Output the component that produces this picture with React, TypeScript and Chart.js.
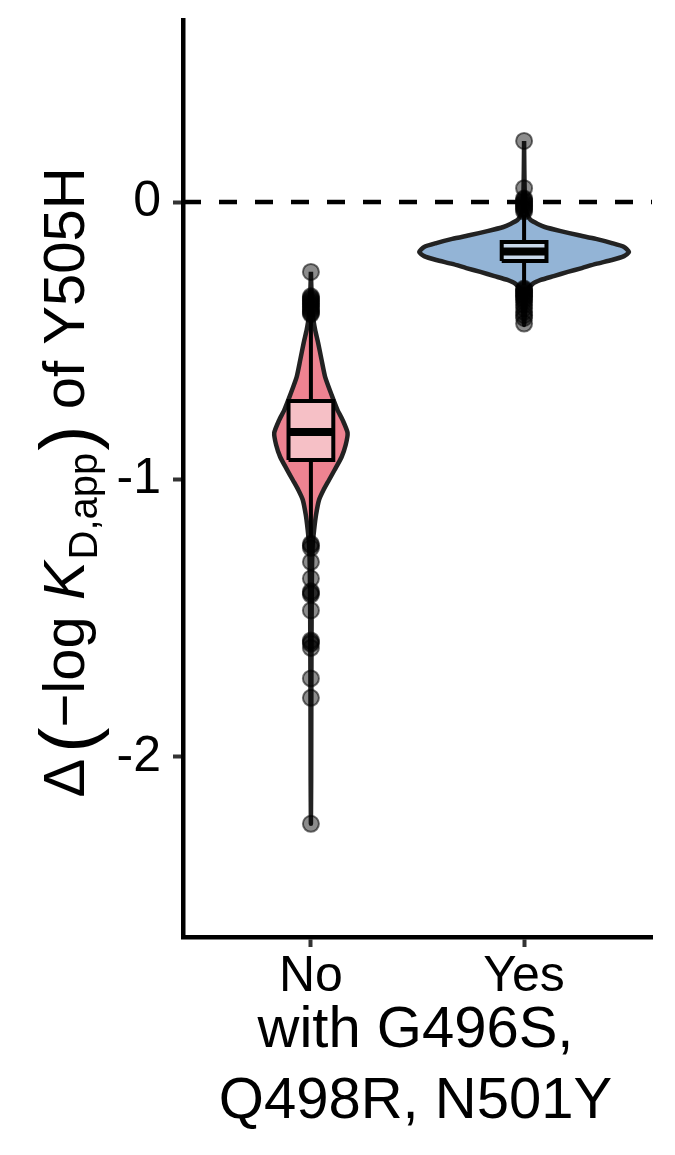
import React, { useEffect, useRef } from 'react';
import { Chart, registerables } from 'chart.js';

Chart.register(...registerables);

const FONT = '"Liberation Sans", Arial, Helvetica, sans-serif';

// ---- data ----
const categories = ['No', 'Yes'];
const yTickValues = [0, -1, -2];
const xTitleLines = ['with G496S,', 'Q498R, N501Y'];

// violin profiles: y value and half-width (in x-axis units)
const noDensityY = [-0.252, -0.317, -0.389, -0.432, -0.461, -0.508, -0.569, -0.631, -0.695, -0.75, -0.786, -0.832, -0.876, -0.919, -0.966, -1.002, -1.038, -1.074, -1.128, -1.182, -1.236, -1.326, -1.506, -1.795, -2.083, -2.241];
const noDensityW = [0, 0.0024, 0.0066, 0.0132, 0.02, 0.034, 0.05, 0.067, 0.097, 0.125, 0.149, 0.172, 0.163, 0.144, 0.111, 0.085, 0.059, 0.038, 0.024, 0.015, 0.0085, 0.005, 0.0033, 0.002, 0.0012, 0];
const yesDensityY = [0.22, 0.115, 0.025, -0.029, -0.05, -0.065, -0.079, -0.09, -0.105, -0.119, -0.133, -0.148, -0.162, -0.18, -0.195, -0.209, -0.223, -0.238, -0.252, -0.267, -0.281, -0.295, -0.317, -0.353, -0.396, -0.443];
const yesDensityW = [0, 0.0012, 0.0033, 0.0085, 0.018, 0.031, 0.064, 0.097, 0.172, 0.252, 0.337, 0.412, 0.469, 0.492, 0.469, 0.412, 0.337, 0.271, 0.205, 0.139, 0.078, 0.04, 0.018, 0.0085, 0.004, 0];

// box statistics
const boxQ1 = [-0.93, -0.213];
const boxMedian = [-0.829, -0.178];
const boxQ3 = [-0.717, -0.144];
const whiskerLow = [-1.21, -0.3];
const whiskerHigh = [-0.42, -0.045];

// outliers
const noOutliers = [-0.252, -0.34, -0.345, -0.35, -0.355, -0.36, -0.365, -0.37, -0.376, -0.382, -0.388, -0.394, -0.4, -0.404, -1.232, -1.238, -1.247, -1.297, -1.357, -1.403, -1.409, -1.415, -1.472, -1.58, -1.586, -1.592, -1.607, -1.717, -1.787, -2.241];
const yesOutliers = [0.22, 0.05, 0.013, 0.008, 0.003, -0.002, -0.007, -0.012, -0.017, -0.022, -0.027, -0.034, -0.312, -0.316, -0.32, -0.325, -0.33, -0.335, -0.34, -0.346, -0.352, -0.36, -0.371, -0.383, -0.396, -0.408, -0.418, -0.438];

const refLine = [0];

// ---- styles ----
const violinFills = ['#EE8391', '#93B4D6'];
const boxFills = ['#F6C0C6', '#C7D7EA'];
const BOX_HALF = 0.105;
const TICK_SIZE = 50;
const TITLE_SIZE = 58;

function violinPoints(center: number, ys: number[], ws: number[]) {
  const right = ys.map((y, i) => ({ x: center + ws[i], y }));
  const left = ys.map((y, i) => ({ x: center - ws[i], y })).reverse();
  return [...right, ...left];
}

function drawYTitle(ctx: CanvasRenderingContext2D, baseX: number, centerY: number) {
  const PAREN = 76;
  const SUB = 40;
  const parts = [
    { text: 'Δ', font: `${TITLE_SIZE}px ${FONT}`, dy: 0, gap: 6 },
    { text: '(', font: `${PAREN}px ${FONT}`, dy: 9, gap: 0 },
    { text: '−log ', font: `${TITLE_SIZE}px ${FONT}`, dy: 0, gap: 0 },
    { text: 'K', font: `italic ${TITLE_SIZE}px ${FONT}`, dy: 0, gap: 2 },
    { text: 'D,app', font: `${SUB}px ${FONT}`, dy: 13, gap: 2 },
    { text: ')', font: `${PAREN}px ${FONT}`, dy: 9, gap: 0 },
    { text: ' of Y505H', font: `${TITLE_SIZE}px ${FONT}`, dy: 0, gap: 0 },
  ];
  ctx.save();
  ctx.translate(baseX, centerY);
  ctx.rotate(-Math.PI / 2);
  ctx.fillStyle = '#000';
  ctx.textBaseline = 'alphabetic';
  ctx.textAlign = 'left';
  const widths = parts.map((p) => {
    ctx.font = p.font;
    return ctx.measureText(p.text).width;
  });
  const total = widths.reduce((s, w, i) => s + w + parts[i].gap, 0);
  let x = -total / 2;
  parts.forEach((p, i) => {
    ctx.font = p.font;
    ctx.fillText(p.text, x, p.dy);
    x += widths[i] + p.gap;
  });
  ctx.restore();
}

const titlePlugin = {
  id: 'axisTitles',
  afterDraw(chart: any) {
    const ctx = chart.ctx as CanvasRenderingContext2D;
    const area = chart.chartArea;
    ctx.save();
    ctx.fillStyle = '#000';
    ctx.font = `${TITLE_SIZE}px ${FONT}`;
    ctx.textAlign = 'center';
    ctx.textBaseline = 'alphabetic';
    const cx = (area.left + area.right) / 2;
    xTitleLines.forEach((line, i) => {
      ctx.fillText(line, cx - 2, area.bottom + 110 + i * 71);
    });
    ctx.restore();
    drawYTitle(ctx, 84, (area.top + area.bottom) / 2 + 4);
  },
};

export default function App() {
  const canvasRef = useRef<HTMLCanvasElement | null>(null);

  useEffect(() => {
    document.body.style.margin = '0';
    const canvas = canvasRef.current;
    if (!canvas) return;

    const densities = [
      { ys: noDensityY, ws: noDensityW },
      { ys: yesDensityY, ws: yesDensityW },
    ];
    const outliers = [noOutliers, yesOutliers];

    const datasets: any[] = [];

    // dashed reference line
    datasets.push({
      data: [
        { x: 0.4, y: refLine[0] },
        { x: 2.6, y: refLine[0] },
      ],
      showLine: true,
      pointRadius: 0,
      borderColor: '#000',
      borderWidth: 4.5,
      borderDash: [18, 18],
      borderCapStyle: 'butt',
      fill: false,
      order: 20,
    });

    categories.forEach((_, gi) => {
      const cx = gi + 1;
      datasets.push({
        data: violinPoints(cx, densities[gi].ys, densities[gi].ws),
        showLine: true,
        pointRadius: 0,
        borderColor: '#222',
        borderWidth: 4.5,
        backgroundColor: violinFills[gi],
        fill: 'shape',
        tension: 0.2,
        borderJoinStyle: 'round',
        order: 15 - gi,
      });
      datasets.push({
        data: [
          { x: cx, y: boxQ3[gi] },
          { x: cx, y: whiskerHigh[gi] },
        ],
        showLine: true,
        pointRadius: 0,
        borderColor: '#000',
        borderWidth: 4,
        fill: false,
        order: 12,
      });
      datasets.push({
        data: [
          { x: cx, y: boxQ1[gi] },
          { x: cx, y: whiskerLow[gi] },
        ],
        showLine: true,
        pointRadius: 0,
        borderColor: '#000',
        borderWidth: 4,
        fill: false,
        order: 12,
      });
      datasets.push({
        data: [
          { x: cx - BOX_HALF, y: boxQ1[gi] },
          { x: cx + BOX_HALF, y: boxQ1[gi] },
          { x: cx + BOX_HALF, y: boxQ3[gi] },
          { x: cx - BOX_HALF, y: boxQ3[gi] },
          { x: cx - BOX_HALF, y: boxQ1[gi] },
        ],
        showLine: true,
        pointRadius: 0,
        borderColor: '#000',
        borderWidth: 4,
        backgroundColor: boxFills[gi],
        fill: 'shape',
        tension: 0,
        borderJoinStyle: 'miter',
        order: 10,
      });
      datasets.push({
        data: [
          { x: cx - BOX_HALF, y: boxMedian[gi] },
          { x: cx + BOX_HALF, y: boxMedian[gi] },
        ],
        showLine: true,
        pointRadius: 0,
        borderColor: '#000',
        borderWidth: 8,
        borderCapStyle: 'butt',
        fill: false,
        order: 8,
      });
      datasets.push({
        data: outliers[gi].map((v) => ({ x: cx, y: v })),
        showLine: false,
        pointRadius: 8,
        pointBorderWidth: 2,
        pointBackgroundColor: 'rgba(0,0,0,0.45)',
        pointBorderColor: 'rgba(0,0,0,0.55)',
        order: 1,
      });
    });

    const chart = new Chart(canvas, {
      type: 'scatter',
      data: { datasets },
      plugins: [titlePlugin],
      options: {
        animation: false,
        responsive: false,
        devicePixelRatio: 1,
        events: [],
        layout: { padding: { top: 20, right: 23, bottom: 0, left: 0 } },
        plugins: {
          legend: { display: false },
          tooltip: { enabled: false },
        },
        scales: {
          x: {
            type: 'linear',
            min: 0.4,
            max: 2.6,
            afterBuildTicks: (s: any) => {
              s.ticks = categories.map((_, i) => ({ value: i + 1 }));
            },
            afterFit: (s: any) => {
              s.height = 218;
              s.paddingLeft = 0;
              s.paddingRight = 0;
            },
            ticks: {
              callback: (v: any) => categories[Math.round(Number(v)) - 1] ?? '',
              font: { family: FONT, size: TICK_SIZE },
              color: '#000',
              padding: 0,
              autoSkip: false,
              maxRotation: 0,
              minRotation: 0,
            },
            grid: {
              drawOnChartArea: false,
              drawTicks: true,
              tickLength: 10,
              tickWidth: 4,
              tickColor: '#333',
            },
            border: { display: true, color: '#000', width: 4.5 },
          },
          y: {
            type: 'linear',
            min: -2.649,
            max: 0.656,
            afterBuildTicks: (s: any) => {
              s.ticks = yTickValues.map((v) => ({ value: v }));
            },
            afterFit: (s: any) => {
              s.width = 183;
              s.paddingTop = 0;
              s.paddingBottom = 0;
            },
            ticks: {
              callback: (v: any) => String(v),
              font: { family: FONT, size: TICK_SIZE },
              color: '#000',
              padding: 12,
            },
            grid: {
              drawOnChartArea: false,
              drawTicks: true,
              tickLength: 10,
              tickWidth: 4,
              tickColor: '#333',
            },
            border: { display: true, color: '#000', width: 4.5 },
          },
        },
      } as any,
    });

    return () => {
      chart.destroy();
    };
  }, []);

  return <canvas ref={canvasRef} width={675} height={1155} style={{ display: 'block' }} />;
}
